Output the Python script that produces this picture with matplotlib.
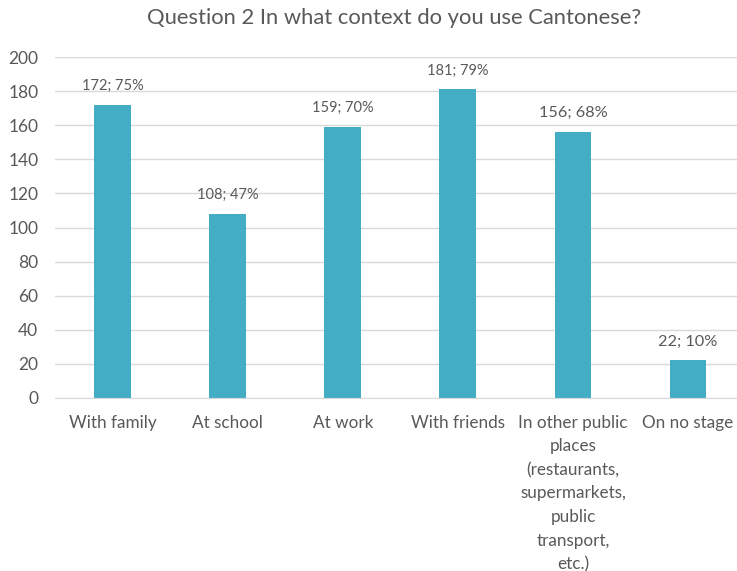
import numpy as np
import matplotlib.pyplot as plt

categories = ["With family", "At school", "At work", "With friends",
              "In other public\nplaces\n(restaurants,\nsupermarkets,\npublic\ntransport,\netc.)",
              "On no stage"]
counts = [172, 108, 159, 181, 156, 22]
percents = [75, 47, 70, 79, 68, 10]
label_sizes = [10.5, 10.5, 10.5, 10.5, 11.7, 11.7]

bar_color = '#43ADC6'
text_color = '#595959'
grid_color = '#D9D9D9'

plt.rcParams['font.family'] = ['Lato', 'DejaVu Sans']

fig = plt.figure(figsize=(7.37, 5.71), dpi=100)
ax = fig.add_axes([55/737, 173/571, 690.6/737, 341/571])

x = np.arange(len(categories))
ax.bar(x, counts, width=0.32, color=bar_color, zorder=3)

for xi, c, p, fs in zip(x, counts, percents, label_sizes):
    ax.annotate(f"{c}; {p}%", (xi, c), xytext=(0, 13.5), textcoords='offset points',
                ha='center', va='center', fontsize=fs, color=text_color)

ax.set_xlim(-0.5, len(categories) - 0.5)
ax.set_ylim(0, 200)
ax.set_yticks(np.arange(0, 201, 20))
ax.set_xticks(x)
ax.set_xticklabels(categories, fontsize=12.3, color=text_color, linespacing=1.58)
ax.tick_params(axis='y', labelsize=12.5, labelcolor=text_color, length=0, pad=12)
ax.tick_params(axis='x', length=0, pad=12)
ax.grid(axis='y', color=grid_color, linewidth=1, zorder=0)
for s in ['top', 'right', 'left']:
    ax.spines[s].set_visible(False)
ax.spines['bottom'].set_color(grid_color)
ax.spines['bottom'].set_zorder(4)

fig.text(394/737, 1 - 18/571, "Question 2 In what context do you use Cantonese?",
         ha='center', va='center', fontsize=15.8, color=text_color)

plt.savefig("out.png", dpi=100)
